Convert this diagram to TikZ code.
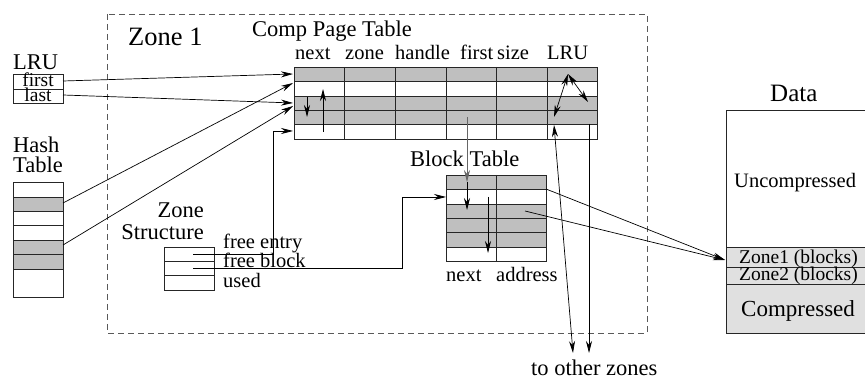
\documentclass[tikz,border=0pt]{standalone}
\usepackage{fontspec}
\setmainfont{Liberation Serif}
\usetikzlibrary{arrows.meta}
\begin{document}
\begin{tikzpicture}[x=1pt,y=-1pt,
  tbl/.style={draw=black!85, line width=0.8pt},
  gr/.style={fill=black!25},
  lgr/.style={fill=black!12},
  arr/.style={-{Stealth[length=12pt,width=6pt]}, line width=0.7pt},
  darr/.style={{Stealth[length=12pt,width=6pt]}-{Stealth[length=12pt,width=6pt]}, line width=0.7pt},
  lbl/.style={inner sep=0pt, anchor=base west, font=\fontsize{20.5}{22}\selectfont},
  ttl/.style={lbl, font=\fontsize{22.5}{24}\selectfont},
]
\useasboundingbox (0,0) rectangle (865,379);

% zone boundary
\draw[dash pattern=on 6pt off 4pt, draw=black!65, line width=0.8pt] (107,14) rectangle (647,333);
\node[lbl, font=\fontsize{26.5}{28}\selectfont] (zone1) at (128,46) {Zone 1};

% ---------- Comp Page Table ----------
\node[ttl] (cpttitle) at (252,37) {Comp Page Table};
\fill[gr] (294,67) rectangle (597,81);
\fill[gr] (294,96) rectangle (597,124);
\draw[tbl] (294,67) rectangle (597,139);
\foreach \y in {81,96,110,124} \draw[tbl] (294,\y) -- (597,\y);
\foreach \x in {344,395,446,496,547} \draw[tbl] (\x,67) -- (\x,139);
\node[lbl] (hnext) at (295,60) {next};
\node[lbl] (hzone) at (345,60) {zone};
\node[lbl] (hhandle) at (395,60) {handle};
\node[lbl] (hfirst) at (460,60) {first};
\node[lbl] (hsize) at (497,60) {size};
\node[lbl] (hlru) at (547,60) {LRU};

% ---------- Block Table ----------
\node[ttl] (bttitle) at (410,167) {Block Table};
\fill[gr] (446,175) rectangle (546,189);
\fill[gr] (446,204) rectangle (546,247);
\draw[tbl] (446,175) rectangle (546,261);
\foreach \y in {189,204,218,232,247} \draw[tbl] (446,\y) -- (546,\y);
\draw[tbl] (496,175) -- (496,261);
\node[lbl] (bnext) at (446,282) {next};
\node[lbl] (baddr) at (496,282) {address};

% ---------- LRU ----------
\node[ttl, anchor=base west] (lrutitle) at (13,70) {LRU};
\draw[tbl] (13,74) rectangle (63,103);
\draw[tbl] (13,89) -- (63,89);
\node[lbl, anchor=base, font=\fontsize{19.5}{21}\selectfont] (lfirst) at (38,87) {first};
\node[lbl, anchor=base, font=\fontsize{19.5}{21}\selectfont] (llast) at (38,102) {last};

% ---------- Hash Table ----------
\node[ttl] (hash1t) at (13,153) {Hash};
\node[ttl] (hash2t) at (13,173) {Table};
\fill[gr] (13,197) rectangle (63,211);
\fill[gr] (13,240) rectangle (63,269);
\draw[tbl] (13,182) rectangle (63,297);
\foreach \y in {197,211,225,240,254,269} \draw[tbl] (13,\y) -- (63,\y);

% ---------- Zone Structure ----------
\node[ttl, anchor=base east] (zst1) at (204,218) {Zone};
\node[ttl, anchor=base east] (zst2) at (204,240) {Structure};
\draw[tbl] (164,247) rectangle (214,290);
\foreach \y in {261,275} \draw[tbl] (164,\y) -- (214,\y);
\node[lbl] (zfe) at (223,249) {free entry};
\node[lbl] (zfb) at (223,268) {free block};
\node[lbl] (zused) at (223,288) {used};

% ---------- Data ----------
\node[lbl, font=\fontsize{25}{27}\selectfont] (datat) at (770,102) {Data};
\fill[lgr] (726,247) rectangle (866,333);
\draw[tbl] (726,110) rectangle (866,333);
\draw[tbl] (726,247) -- (866,247);
\draw[tbl] (726,267) -- (866,267);
\draw[tbl] (726,284) -- (866,284);
\node[lbl] (uncomp) at (734,188) {Uncompressed};
\node[lbl, font=\fontsize{19.5}{21}\selectfont] (dz1) at (739,264) {Zone1 (blocks)};
\node[lbl, font=\fontsize{19.5}{21}\selectfont] (dz2) at (739,281) {Zone2 (blocks)};
\node[lbl, font=\fontsize{23}{25}\selectfont] (dcomp) at (741,317) {Compressed};

\node[ttl] (other) at (531,375) {to other zones};

% ---------- coordinates ----------
\coordinate (lf) at (63,81);   \coordinate (cptA) at (293,74);
\coordinate (ll) at (63,95);   \coordinate (cptC) at (293,103);
\coordinate (h1) at (63,203);  \coordinate (cptB) at (293,83);
\coordinate (h2) at (63,245);  \coordinate (cptD) at (293,106);
\coordinate (fe) at (193,254); \coordinate (feup) at (273,254); \coordinate (fetop) at (273,131); \coordinate (cptE) at (293,131);
\coordinate (fb) at (193,268); \coordinate (fbr) at (402,268); \coordinate (fbtop) at (402,197); \coordinate (btB) at (446,197);
\coordinate (n1a) at (307,97); \coordinate (n1b) at (307,117);
\coordinate (n2a) at (323,132); \coordinate (n2b) at (323,89);
\coordinate (fa) at (467,117); \coordinate (fbm) at (467,182); \coordinate (fc) at (467,210);
\coordinate (bna) at (488,197); \coordinate (bnb) at (488,253);
\coordinate (ad1) at (546,189); \coordinate (ad2) at (525,211); \coordinate (dz) at (725,260);
\coordinate (peak) at (568,74); \coordinate (pl) at (554,117); \coordinate (pr) at (588,102);
\coordinate (lla) at (554,125); \coordinate (llb) at (573,353);
\coordinate (rla) at (589,124); \coordinate (rlb) at (589,353);

% ---------- connectors ----------
\draw[arr] (lf) -- (cptA);
\draw[arr] (ll) -- (cptC);
\draw[arr] (h1) -- (cptB);
\draw[arr] (h2) -- (cptD);
\draw[arr] (fe) -- (feup) -- (fetop) -- (cptE);
\draw[arr] (fb) -- (fbr) -- (fbtop) -- (btB);
\draw[arr] (n1a) -- (n1b);
\draw[arr] (n2a) -- (n2b);
\draw[arr, draw=black!60] (fa) -- (fbm);
\draw[arr] (fbm) -- (fc);
\draw[arr] (bna) -- (bnb);
\draw[arr] (ad1) -- (dz);
\draw[arr] (ad2) -- (dz);
\draw[darr] (peak) -- (pl);
\draw[darr] (peak) -- (pr);
\draw[darr] (lla) -- (llb);
\draw[arr] (rla) -- (rlb);
\end{tikzpicture}
\end{document}
